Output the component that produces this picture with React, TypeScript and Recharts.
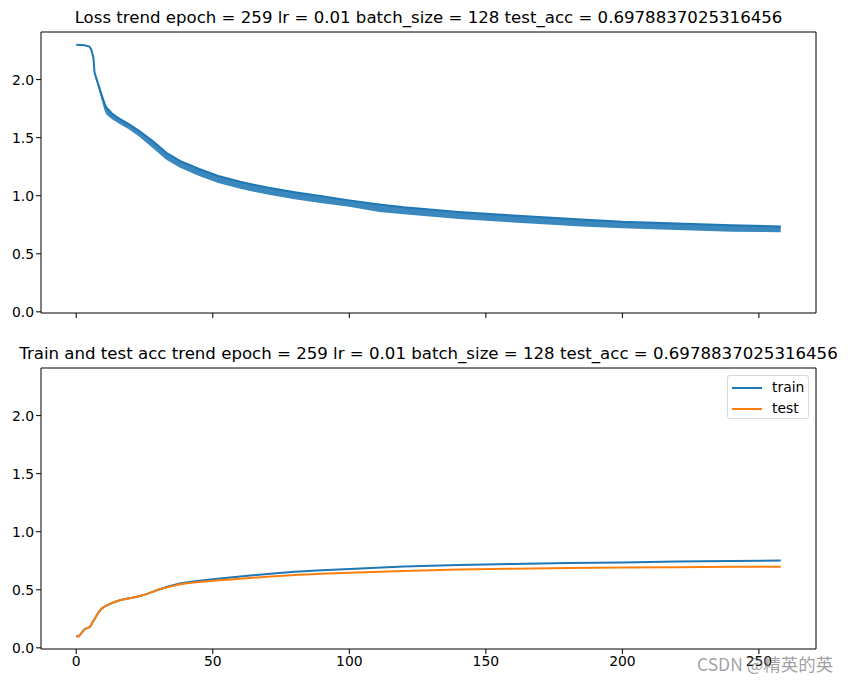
import { ComposedChart, LineChart, Line, Area, XAxis, YAxis, ReferenceArea } from 'recharts'

// loss: upper edge and lower edge (sawtooth dips)
const lossEpochs = [0, 3, 4.8, 5.5, 6.3, 6.7, 7.8, 9, 10.3, 11, 13, 15, 19.4, 23, 28, 33, 38, 45, 52, 60, 70, 80, 90, 100, 111, 120, 140, 160, 185, 200, 220, 240, 258]
const lossUpper = [2.3, 2.295, 2.285, 2.26, 2.19, 2.06, 1.98, 1.89, 1.8, 1.76, 1.71, 1.675, 1.615, 1.56, 1.47, 1.37, 1.3, 1.23, 1.17, 1.12, 1.07, 1.03, 0.995, 0.96, 0.925, 0.9, 0.86, 0.83, 0.795, 0.775, 0.76, 0.745, 0.735]
const lossLower = [2.3, 2.295, 2.28, 2.24, 2.17, 2.04, 1.95, 1.85, 1.74, 1.7, 1.66, 1.63, 1.57, 1.51, 1.41, 1.31, 1.24, 1.17, 1.11, 1.06, 1.01, 0.97, 0.935, 0.905, 0.86, 0.84, 0.8, 0.77, 0.735, 0.72, 0.705, 0.69, 0.685]

const accEpochs = [0, 1, 2, 3, 4, 5, 6, 7, 8, 9, 10, 12, 14, 16, 18, 20, 23, 26, 30, 34, 38, 42, 46, 50, 60, 70, 80, 90, 100, 120, 140, 160, 180, 200, 220, 240, 258]
const trainAcc = [0.1, 0.1, 0.13, 0.16, 0.17, 0.18, 0.22, 0.26, 0.3, 0.33, 0.35, 0.375, 0.395, 0.41, 0.42, 0.43, 0.445, 0.465, 0.5, 0.53, 0.555, 0.57, 0.58, 0.59, 0.615, 0.635, 0.655, 0.668, 0.68, 0.7, 0.713, 0.722, 0.73, 0.736, 0.743, 0.748, 0.752]
const testAcc = [0.1, 0.1, 0.13, 0.16, 0.17, 0.18, 0.22, 0.26, 0.3, 0.33, 0.35, 0.375, 0.395, 0.41, 0.42, 0.43, 0.445, 0.465, 0.5, 0.525, 0.548, 0.56, 0.57, 0.578, 0.595, 0.612, 0.628, 0.638, 0.646, 0.662, 0.674, 0.682, 0.687, 0.692, 0.695, 0.698, 0.698]

const xTicks = [0, 50, 100, 150, 200, 250]
const yTicks = [0, 0.5, 1, 1.5, 2]
const xDomain: [number, number] = [-12.9, 270.9]
const yDomain: [number, number] = [-0.01, 2.41]

const title = 'epoch = 259 lr = 0.01 batch_size = 128 test_acc = 0.6978837025316456'

const BLUE = '#1f77b4'
const ORANGE = '#ff7f0e'
const FONT = '"DejaVu Sans", sans-serif'
const tickStyle = { fontSize: 13.9, fill: '#000', fontFamily: FONT }

const lossData = lossEpochs.map((e, i) => ({ epoch: e, upper: lossUpper[i], band: [lossLower[i], lossUpper[i]] }))
const accData = accEpochs.map((e, i) => ({ epoch: e, train: trainAcc[i], test: testAcc[i] }))

const titleStyle = (top: number): React.CSSProperties => ({
  position: 'absolute', top, left: 428.5, transform: 'translateX(-50%)',
  fontFamily: FONT, fontSize: 16.6, lineHeight: '20px', color: '#000', whiteSpace: 'nowrap',
})

export default function App() {
  return (
    <div style={{ position: 'absolute', left: 0, top: 0, width: 848, height: 682, background: '#fff', overflow: 'hidden' }}>
      <div style={titleStyle(8)}>Loss trend {title}</div>
      <div style={{ position: 'absolute', left: 0, top: 0 }}>
        <ComposedChart width={848} height={340} data={lossData} margin={{ top: 32, right: 32, bottom: 0, left: 0 }}>
          <XAxis type="number" dataKey="epoch" domain={xDomain} ticks={xTicks} allowDataOverflow
            tickFormatter={() => ''} tickSize={5} axisLine={false} tickLine={{ stroke: '#000' }} height={27} />
          <YAxis type="number" domain={yDomain} ticks={yTicks} allowDataOverflow width={41}
            tickFormatter={(v) => Number(v).toFixed(1)} tick={tickStyle} tickSize={5} axisLine={false} tickLine={{ stroke: '#000' }} />
          <Area dataKey="band" type="linear" stroke="none" fill={BLUE} fillOpacity={0.88} isAnimationActive={false} />
          <Line dataKey="upper" type="linear" stroke={BLUE} strokeWidth={2} dot={false} isAnimationActive={false} />
          <ReferenceArea x1={xDomain[0]} x2={xDomain[1]} y1={yDomain[0]} y2={yDomain[1]} fill="none" stroke="#000" strokeWidth={1} />
        </ComposedChart>
      </div>

      <div style={titleStyle(344)}>Train and test acc trend {title}</div>
      <div style={{ position: 'absolute', left: 0, top: 340 }}>
        <LineChart width={848} height={342} data={accData} margin={{ top: 28, right: 32, bottom: 0, left: 0 }}>
          <XAxis type="number" dataKey="epoch" domain={xDomain} ticks={xTicks} allowDataOverflow
            tick={tickStyle} tickSize={5} axisLine={false} tickLine={{ stroke: '#000' }} height={33} />
          <YAxis type="number" domain={yDomain} ticks={yTicks} allowDataOverflow width={41}
            tickFormatter={(v) => Number(v).toFixed(1)} tick={tickStyle} tickSize={5} axisLine={false} tickLine={{ stroke: '#000' }} />
          <Line dataKey="train" type="linear" stroke={BLUE} strokeWidth={2} dot={false} isAnimationActive={false} />
          <Line dataKey="test" type="linear" stroke={ORANGE} strokeWidth={2} dot={false} isAnimationActive={false} />
          <ReferenceArea x1={xDomain[0]} x2={xDomain[1]} y1={yDomain[0]} y2={yDomain[1]} fill="none" stroke="#000" strokeWidth={1} />
        </LineChart>
      </div>

      {/* legend */}
      <div style={{ position: 'absolute', left: 727, top: 375, width: 82, height: 44, border: '1px solid #d9d9d9', borderRadius: 3,
        background: 'rgba(255,255,255,0.8)', fontFamily: FONT, fontSize: 13.9, boxSizing: 'border-box' }}>
        {[['train', BLUE], ['test', ORANGE]].map(([name, c], i) => (
          <div key={name} style={{ position: 'absolute', left: 4, top: 3 + i * 21, height: 17, display: 'flex', alignItems: 'center' }}>
            <div style={{ width: 30, height: 2, background: c }} />
            <span style={{ marginLeft: 10, lineHeight: '17px' }}>{name}</span>
          </div>
        ))}
      </div>

      <div style={{ position: 'absolute', left: 697, top: 652, fontFamily: '"Noto Sans CJK SC", sans-serif', fontSize: 17.5,
        lineHeight: '24px', color: 'rgba(120,120,120,0.7)', whiteSpace: 'nowrap' }}>CSDN @精英的英</div>
    </div>
  )
}
